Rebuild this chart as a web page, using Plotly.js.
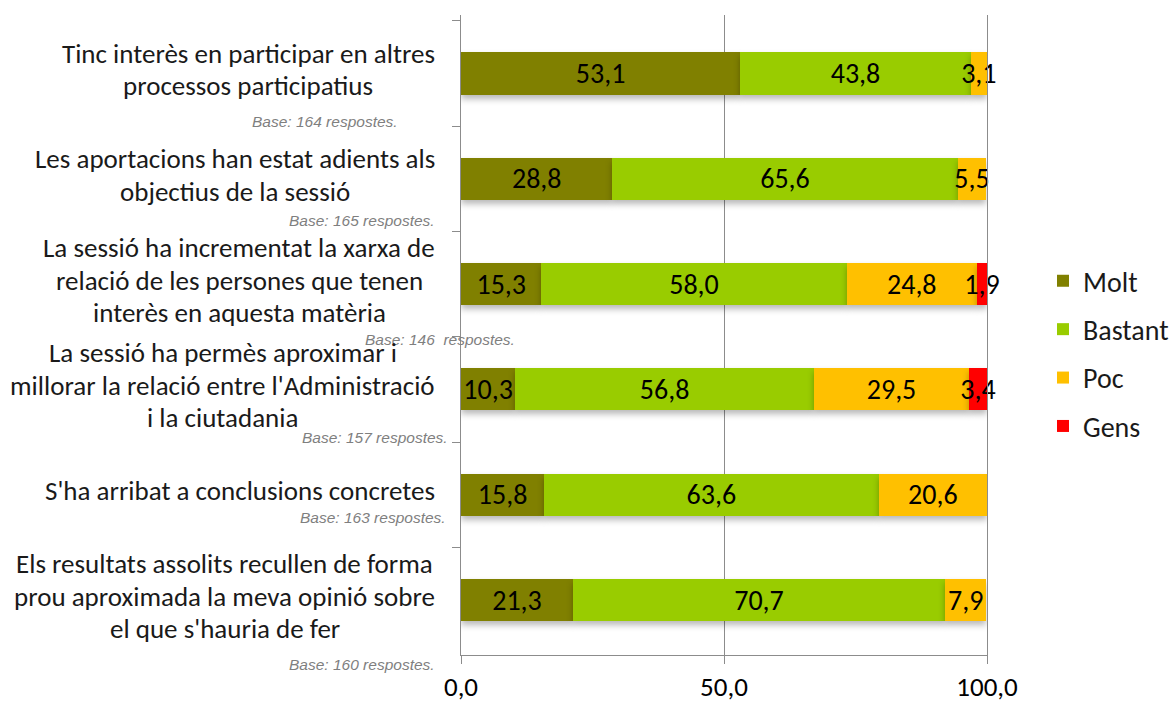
<!DOCTYPE html>
<html>
<head>
<meta charset="utf-8">
<script src="https://cdn.plot.ly/plotly-3.0.1.min.js"></script>
<style>
html,body{margin:0;padding:0;background:#fff;overflow:hidden;}
#chart{width:1171px;height:704px;overflow:hidden;}
.barlayer .point path{filter:drop-shadow(0px 4px 3px rgba(0,0,0,0.28));}
</style>
</head>
<body>
<div id="chart"></div>
<script>
// ---- data ----
const categories = [
  "Tinc interès en participar en altres<br>processos participatius",
  "Les aportacions han estat adients als<br>objectius de la sessió",
  "La sessió ha incrementat la xarxa de<br>relació de les persones que tenen<br>interès en aquesta matèria",
  "La sessió ha permès aproximar i<br>millorar la relació entre l'Administració<br>i la ciutadania",
  "S'ha arribat a conclusions concretes",
  "Els resultats assolits recullen de forma<br>prou aproximada la meva opinió sobre<br>el que s'hauria de fer"
];
const bases = [
  "Base: 164 respostes.",
  "Base: 165 respostes.",
  "Base: 146\u00a0\u00a0respostes.",
  "Base: 157 respostes.",
  "Base: 163 respostes.",
  "Base: 160 respostes."
];
const seriesNames = ["Molt", "Bastant", "Poc", "Gens"];
const molt    = [53.1, 28.8, 15.3, 10.3, 15.8, 21.3];
const bastant = [43.8, 65.6, 58.0, 56.8, 63.6, 70.7];
const poc     = [3.1, 5.5, 24.8, 29.5, 20.6, 7.9];
const gens    = [null, null, 1.9, 3.4, null, null];
const xTickVals = [0, 50, 100];

// ---- style / layout config ----
const colors = ["#808000", "#99CC00", "#FFC000", "#FF0000"];
const mainFont = "Carlito, Lato, 'Open Sans', sans-serif";
const labelSize = 27;
const lineGap = 32.5;
const labelRight = -26;   // px from plot left edge to right edge of label block
const labelDy = 4;
// base-note placement (pixel offsets from plot left edge / category centre)
const basePlace = [
  {dx: -61, anchor: "right", dy: -48},
  {dx: -24, anchor: "right", dy: -42},
  {dx: -98, anchor: "left",  dy: -55},
  {dx: -11, anchor: "right", dy: -48},
  {dx: -13, anchor: "right", dy: -23},
  {dx: -24, anchor: "right", dy: -64}
];

const seriesVals = [molt, bastant, poc, gens];
const traces = seriesVals.map((vals, k) => ({
  type: "bar",
  orientation: "h",
  name: seriesNames[k],
  legendgroup: seriesNames[k],
  y: categories,
  x: vals,
  marker: {color: colors[k], line: {width: 0}},
  texttemplate: "%{x:.1f}",
  textposition: "inside",
  insidetextanchor: "middle",
  constraintext: "none",
  textangle: 0,
  insidetextfont: {family: mainFont, size: 28, color: "#000"},
  cliponaxis: false,
  hoverinfo: "skip"
}));

// measure text (same font stack as Plotly) to centre multi-line labels as a block
const cv = document.createElement("canvas").getContext("2d");
cv.font = labelSize + "px " + mainFont;
function textW(s) { return cv.measureText(s).width; }

const annotations = [];
categories.forEach((c, i) => {
  const lines = c.split("<br>");
  const maxW = Math.max(...lines.map(textW));
  const cx = labelRight - maxW / 2;
  const n = lines.length;
  lines.forEach((ln, j) => {
    annotations.push({
      xref: "paper", yref: "y", x: 0, y: c, xanchor: "center", yanchor: "middle",
      xshift: cx, yshift: labelDy - (j - (n - 1) / 2) * lineGap,
      text: ln, showarrow: false,
      font: {family: mainFont, size: labelSize, color: "#1a1a1a"}
    });
  });
  const p = basePlace[i];
  annotations.push({
    xref: "paper", yref: "y", x: 0, y: c, xanchor: p.anchor, yanchor: "middle",
    xshift: p.dx, yshift: p.dy, text: bases[i], showarrow: false,
    font: {family: "'Liberation Sans', Arial, sans-serif", size: 15.5, color: "#7f7f7f", style: "italic"}
  });
});

// figure is laid out slightly wider than the window so the legend's trailing
// padding does not squeeze the plot; the extra strip is blank and clipped.
const layout = {
  width: 1190, height: 704,
  margin: {l: 461, r: 203, t: 15, b: 49},
  paper_bgcolor: "#fff", plot_bgcolor: "#fff",
  separators: ", ",
  barmode: "stack",
  bargap: 0.6,
  showlegend: true,
  legend: {
    x: 1.1065, xanchor: "left", y: 0.471, yanchor: "middle",
    traceorder: "grouped", tracegroupgap: 9,
    font: {family: mainFont, size: 28, color: "#1a1a1a"},
    bgcolor: "rgba(0,0,0,0)"
  },
  xaxis: {
    range: [0, 100], tickvals: xTickVals, tickformat: ".1f",
    showgrid: true, gridcolor: "#8c8c8c", gridwidth: 1,
    zeroline: false, showline: true, linecolor: "#8c8c8c", linewidth: 1,
    ticks: "outside", ticklen: 8, tickcolor: "#8c8c8c",
    tickfont: {family: mainFont, size: 27, color: "#000"},
    fixedrange: true
  },
  yaxis: {
    type: "category", autorange: "reversed",
    showticklabels: false, showgrid: false, zeroline: false,
    showline: true, mirror: true, linecolor: "#8c8c8c", linewidth: 1,
    ticks: "outside", tickson: "boundaries", ticklen: 8, tickcolor: "#8c8c8c",
    fixedrange: true
  },
  annotations: annotations
};

Plotly.newPlot("chart", traces, layout, {displayModeBar: false, staticPlot: true});
</script>
</body>
</html>
